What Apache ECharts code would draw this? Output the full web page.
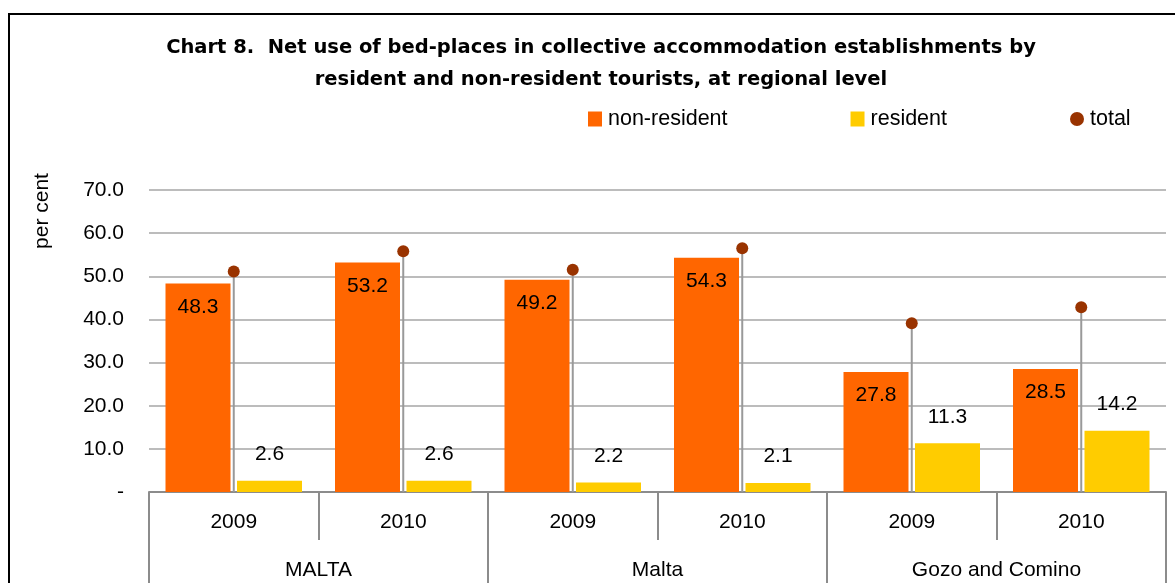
<!DOCTYPE html>
<html>
<head>
<meta charset="utf-8">
<script src="https://cdn.jsdelivr.net/npm/echarts@6/dist/echarts.min.js"></script>
<style>
  html, body { margin: 0; padding: 0; background: #fff; }
  #chart { width: 1175px; height: 583px; }
</style>
</head>
<body>
<div id="chart"></div>
<script>
  // data
  const years = ['2009', '2010', '2009', '2010', '2009', '2010']
  const regions = ['MALTA', 'Malta', 'Gozo and Comino']
  const nonResident = [48.3, 53.2, 49.2, 54.3, 27.8, 28.5]
  const resident = [2.6, 2.6, 2.2, 2.1, 11.3, 14.2]
  const total = [51.1, 55.8, 51.5, 56.5, 39.1, 42.8]
  const yTickLabels = ['-', '10.0', '20.0', '30.0', '40.0', '50.0', '60.0', '70.0']

  const font = '"Liberation Sans", Arial, sans-serif'
  const titleFont = '"DejaVu Sans", "Liberation Sans", sans-serif'
  const axisGrey = '#8c8c8c'

  const myChart = echarts.init(document.getElementById('chart'))

  const option = {
    animation: false,
    textStyle: { fontFamily: font },
    title: {
      text: 'Chart 8.  Net use of bed-places in collective accommodation establishments by\nresident and non-resident tourists, at regional level',
      left: 596,
      top: 27,
      textAlign: 'center',
      textStyle: {
        fontFamily: titleFont,
        fontSize: 19.5,
        fontWeight: 'bold',
        color: '#000',
        lineHeight: 32
      }
    },
    legend: {
      left: 583,
      top: 103,
      itemWidth: 14,
      itemHeight: 15,
      itemGap: 123,
      textStyle: { fontFamily: font, fontSize: 21.5, color: '#000', padding: [0, 0, 0, 1] },
      data: [
        { name: 'non-resident', icon: 'rect' },
        { name: 'resident', icon: 'rect' },
        { name: 'total', icon: 'circle', itemStyle: { color: '#993300', opacity: 1 } }
      ]
    },
    graphic: [
      {
        type: 'rect',
        shape: { x: 9, y: 14, width: 1250, height: 700 },
        style: { fill: 'none', stroke: '#000', lineWidth: 2 },
        silent: true
      },
      {
        type: 'text',
        x: 42,
        y: 211,
        rotation: Math.PI / 2,
        style: {
          text: 'per cent',
          fontFamily: font,
          fontSize: 21,
          fill: '#000',
          align: 'center',
          verticalAlign: 'middle'
        }
      }
    ],
    grid: {
      left: 149,
      right: 9,
      top: 190,
      bottom: 91,
      outerBoundsMode: 'none'
    },
    xAxis: [
      {
        type: 'category',
        position: 'bottom',
        data: years,
        axisLine: { show: true, lineStyle: { color: axisGrey, width: 2 } },
        axisTick: { show: true, interval: 0, length: 48, lineStyle: { color: axisGrey, width: 2 } },
        axisLabel: { interval: 0, margin: 20, fontSize: 21, color: '#000', fontFamily: font },
        splitLine: { show: false }
      },
      {
        type: 'category',
        position: 'bottom',
        data: regions,
        axisLine: { show: false },
        axisTick: { show: true, interval: 0, length: 100, lineStyle: { color: axisGrey, width: 2 } },
        axisLabel: { interval: 0, margin: 68, fontSize: 21, color: '#000', fontFamily: font },
        splitLine: { show: false }
      },
      {
        // hidden axis for the drop lines under the total dots
        type: 'category',
        position: 'bottom',
        data: years,
        show: false
      }
    ],
    yAxis: {
      type: 'value',
      min: 0,
      max: 70,
      interval: 10,
      axisLine: { show: false },
      axisTick: { show: false },
      axisLabel: {
        margin: 25,
        fontSize: 21,
        color: '#000',
        fontFamily: font,
        formatter: (v) => yTickLabels[Math.round(v / 10)]
      },
      splitLine: { lineStyle: { color: '#bcbcbc', width: 2 } }
    },
    series: [
      {
        name: 'non-resident',
        type: 'bar',
        xAxisIndex: 0,
        data: nonResident,
        barWidth: 65,
        barGap: '10%',
        itemStyle: { color: '#ff6600' },
        label: {
          show: true,
          position: 'insideTop',
          distance: 13,
          fontSize: 21,
          color: '#000',
          fontFamily: font,
          formatter: (p) => p.value.toFixed(1)
        },
        z: 3
      },
      {
        name: 'resident',
        type: 'bar',
        xAxisIndex: 0,
        data: resident,
        barWidth: 65,
        barGap: '10%',
        itemStyle: { color: '#ffcc00' },
        label: {
          show: true,
          position: 'top',
          distance: 16,
          fontSize: 21,
          color: '#000',
          fontFamily: font,
          formatter: (p) => p.value.toFixed(1)
        },
        z: 3
      },
      {
        name: 'drop',
        type: 'bar',
        xAxisIndex: 2,
        data: total,
        barWidth: 2,
        itemStyle: { color: '#999999' },
        silent: true,
        z: 4
      },
      {
        name: 'total',
        type: 'scatter',
        xAxisIndex: 0,
        data: total,
        symbol: 'circle',
        symbolSize: 12,
        itemStyle: { color: '#993300', opacity: 1 },
        z: 5
      }
    ]
  }

  myChart.setOption(option)
</script>
</body>
</html>
